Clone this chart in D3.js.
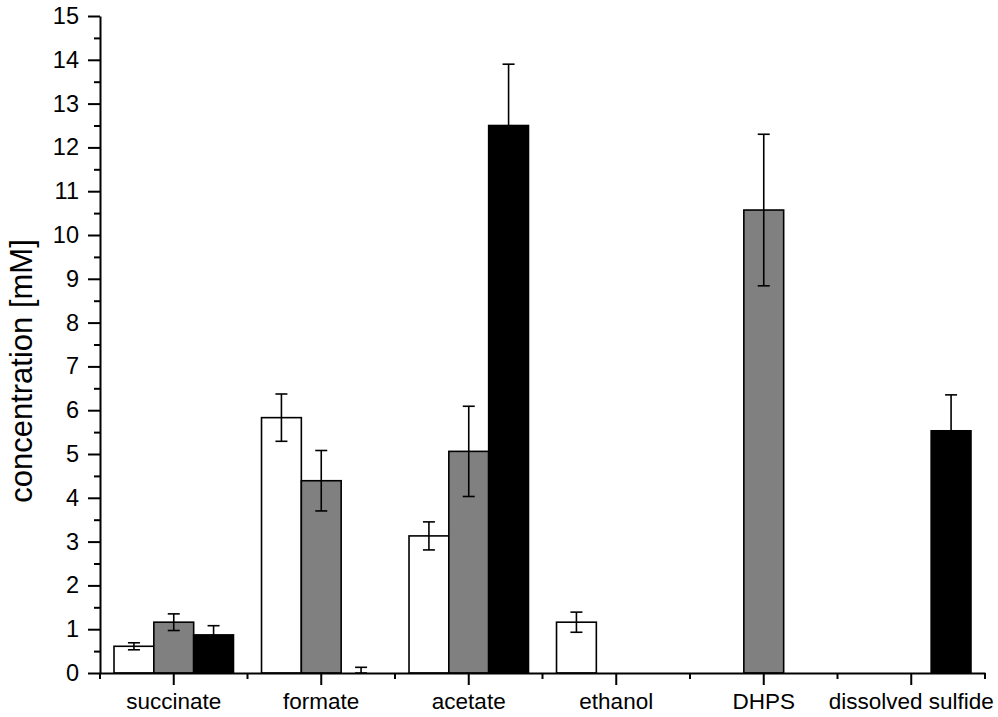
<!DOCTYPE html>
<html>
<head>
<meta charset="utf-8">
<script src="https://cdn.jsdelivr.net/npm/d3@7"></script>
<style>
  body { margin:0; background:#fff; }
  svg text { font-family: "Liberation Sans", Arial, sans-serif; fill:#000; }
</style>
</head>
<body>
<div id="chart-area"></div>
<script>
// categories and three series (white / grey / black bars)
var categories = ["succinate", "formate", "acetate", "ethanol", "DHPS", "dissolved sulfide"];
var seriesNames = ["white", "grey", "black"];
var whiteVals = [0.61, 5.83, 3.13, 1.16, null, null];
var whiteErr  = [0.08, 0.54, 0.32, 0.23, null, null];
var greyVals  = [1.16, 4.39, 5.06, null, 10.57, null];
var greyErr   = [0.19, 0.69, 1.03, null, 1.73, null];
var blackVals = [0.87, 0.00, 12.50, null, null, 5.53];
var blackErr  = [0.21, 0.13, 1.40, null, null, 0.82];
var yTicks = [0,1,2,3,4,5,6,7,8,9,10,11,12,13,14,15];

var W = 998, H = 717;
var fills = { white: "#ffffff", grey: "#808080", black: "#000000" };

var svg = d3.select("#chart-area")
    .append("svg")
        .attr("width", W)
        .attr("height", H);

var x = d3.scaleBand()
    .domain(categories)
    .range([100, 985]);

var bw = x.bandwidth() * 0.27;

var xs = d3.scaleBand()
    .domain(seriesNames)
    .range([-1.5 * bw, 1.5 * bw]);

var y = d3.scaleLinear()
    .domain([0, 15])
    .range([673, 16]);

var data = [];
var allVals = [whiteVals, greyVals, blackVals],
    allErr = [whiteErr, greyErr, blackErr];
seriesNames.forEach(function(s, si){
    categories.forEach(function(c, ci){
        if (allVals[si][ci] == null) return;
        data.push({ cat: c, series: s, value: allVals[si][ci], err: allErr[si][ci] });
    });
});

function cx(d){ return x(d.cat) + x.bandwidth()/2; }

// bars
svg.selectAll("rect.bar")
    .data(data.filter(function(d){ return d.value > 0; }))
    .enter()
    .append("rect")
        .attr("class", "bar")
        .attr("x", function(d){ return cx(d) + xs(d.series); })
        .attr("y", function(d){ return y(d.value); })
        .attr("width", bw)
        .attr("height", function(d){ return y(0) - y(d.value); })
        .attr("fill", function(d){ return fills[d.series]; })
        .attr("stroke", "#000")
        .attr("stroke-width", 1.6);

// error bars
var eb = svg.selectAll("g.err")
    .data(data)
    .enter()
    .append("g")
        .attr("class", "err")
        .attr("stroke", "#000")
        .attr("stroke-width", 1.6);

function ex(d){ return cx(d) + xs(d.series) + bw/2; }
function hi(d){ return y(d.value + d.err); }
function lo(d){ return y(Math.max(0, d.value - d.err)); }

eb.append("line")
    .attr("x1", ex).attr("x2", ex)
    .attr("y1", hi).attr("y2", lo);
eb.append("line")
    .attr("x1", function(d){ return ex(d) - 6; })
    .attr("x2", function(d){ return ex(d) + 6; })
    .attr("y1", hi).attr("y2", hi);
eb.append("line")
    .attr("x1", function(d){ return ex(d) - 6; })
    .attr("x2", function(d){ return ex(d) + 6; })
    .attr("y1", lo).attr("y2", lo);

// y axis: minor then major
var minorY = d3.range(0.5, 15, 1);
svg.append("g")
    .attr("transform", "translate(100,0)")
    .call(d3.axisLeft(y).tickValues(minorY).tickSize(6).tickFormat(""))
    .call(function(g){ g.select(".domain").remove(); })
    .selectAll("line").attr("stroke-width", 2);

var yAxis = svg.append("g")
    .attr("transform", "translate(100,0)")
    .call(d3.axisLeft(y).tickValues(yTicks).tickSize(12).tickSizeOuter(0).tickPadding(9));
yAxis.select(".domain").attr("stroke-width", 2);
yAxis.selectAll("line").attr("stroke-width", 2);
yAxis.selectAll("text").attr("font-size", "23.5px");

// x axis: minor ticks at band edges, major at centers
var edges = categories.map(function(c){ return x(c); }).concat([x.range()[1]]);
svg.append("g")
    .attr("class", "xminor")
    .selectAll("line")
    .data(edges)
    .enter()
    .append("line")
        .attr("x1", function(d){ return d; })
        .attr("x2", function(d){ return d; })
        .attr("y1", y(0)).attr("y2", y(0) + 6)
        .attr("stroke", "#000").attr("stroke-width", 2);

var xAxis = svg.append("g")
    .attr("transform", "translate(0," + y(0) + ")")
    .call(d3.axisBottom(x).tickSize(12).tickSizeOuter(0).tickPadding(8));
xAxis.select(".domain").attr("stroke-width", 2);
xAxis.selectAll("line").attr("stroke-width", 2);
xAxis.selectAll("text").attr("font-size", "22.5px");

// y axis title
svg.append("text")
    .attr("transform", "translate(32,371) rotate(-90)")
    .attr("text-anchor", "middle")
    .attr("font-size", "31px")
    .text("concentration [mM]");
</script>
</body>
</html>
